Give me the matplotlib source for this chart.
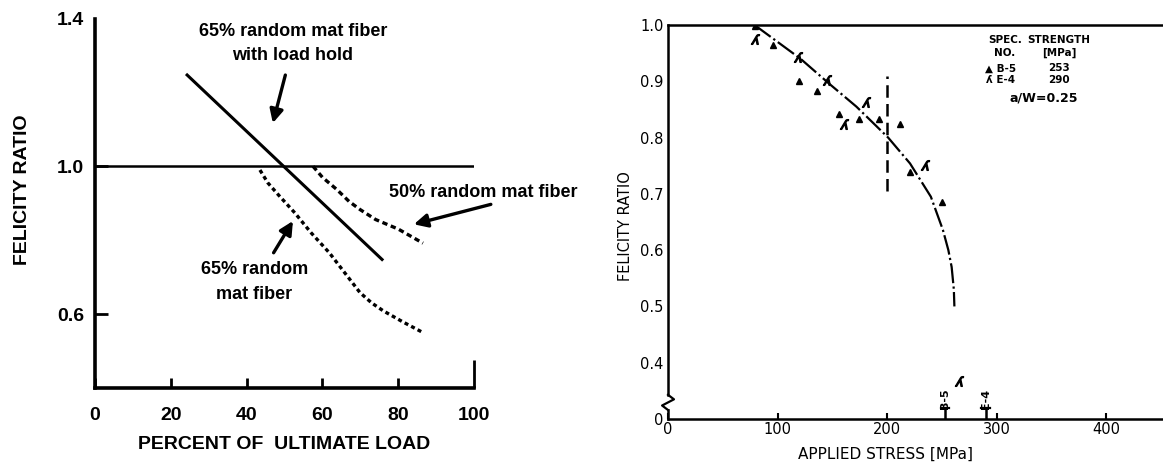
import matplotlib.pyplot as plt
from matplotlib.transforms import blended_transform_factory

# ---- left panel: felicity ratio vs percent of ultimate load ----
hold_x = [24, 76]
hold_y = [1.25, 0.745]
mat50_x = [57.5, 60, 63.8, 67, 69.9, 74, 80, 86.5]
mat50_y = [1.0, 0.97, 0.937, 0.905, 0.883, 0.856, 0.83, 0.792]
mat65_x = [43.5, 45.6, 48.6, 52.7, 57, 61.8, 66, 69.9, 73, 76, 81, 86.5]
mat65_y = [0.99, 0.955, 0.92, 0.874, 0.82, 0.766, 0.71, 0.658, 0.63, 0.609, 0.58, 0.55]
left_xticks = [0, 20, 40, 60, 80, 100]
left_yticks = [0.6, 1.0, 1.4]

# ---- right panel: felicity ratio vs applied stress ----
b5_x = [79, 96, 120, 136, 156, 174, 193, 212, 221, 250]
b5_y = [0.998, 0.964, 0.901, 0.882, 0.841, 0.833, 0.833, 0.825, 0.738, 0.685]
e4_x = [79, 119, 145, 181, 161, 235, 266]
e4_y = [0.975, 0.944, 0.902, 0.864, 0.825, 0.751, 0.368]
fit_x = [79, 100, 121, 147, 172, 201, 221, 240, 251, 256, 259, 261, 261.5]
fit_y = [1.0, 0.97, 0.94, 0.896, 0.855, 0.80, 0.754, 0.695, 0.636, 0.60, 0.57, 0.53, 0.5]
spec_names = ['B-5', 'E-4']
spec_strength = [253, 290]
right_xticks = [0, 100, 200, 300, 400]
right_yticks = [0.3, 0.4, 0.5, 0.6, 0.7, 0.8, 0.9, 1.0]
right_yticklabels = ['0', '0.4', '0.5', '0.6', '0.7', '0.8', '0.9', '1.0']

lfont = ['Liberation Sans', 'DejaVu Sans']
rfont = ['DejaVu Sans']

fig = plt.figure(figsize=(11.63, 4.63), dpi=100)

# left chart
ax1 = fig.add_axes([0.0817, 0.162, 0.326, 0.798])
ax1.set_xlim(0, 100)
ax1.set_ylim(0.4, 1.4)
for s in ['top', 'right']:
    ax1.spines[s].set_visible(False)
for s in ['left', 'bottom']:
    ax1.spines[s].set_linewidth(2.6)
ax1.axhline(1.0, color='black', lw=1.8)
ax1.plot(hold_x, hold_y, color='black', lw=2.2, solid_capstyle='butt')
ax1.plot(mat50_x, mat50_y, color='black', lw=2.4, ls=(0, (1.6, 1.1)))
ax1.plot(mat65_x, mat65_y, color='black', lw=2.4, ls=(0, (1.2, 1.0)))
ax1.set_xticks(left_xticks)
ax1.set_yticks(left_yticks)
ax1.tick_params(axis='x', direction='in', length=7, width=2, pad=14,
                labelsize=14)
ax1.tick_params(axis='y', direction='in', length=9, width=2, pad=8,
                labelsize=14)
ax1.xaxis.get_major_ticks()[-1].tick1line.set_markersize(20)
ax1.yaxis.get_major_ticks()[-1].tick1line.set_markersize(0)
for t in ax1.get_xticklabels() + ax1.get_yticklabels():
    t.set_family(lfont)
    t.set_weight('bold')
ax1.set_xlabel('PERCENT OF  ULTIMATE LOAD', family=lfont, fontsize=14,
               weight='bold', labelpad=8)
ax1.set_ylabel('FELICITY RATIO', family=lfont, fontsize=14, weight='bold')
ax1.yaxis.set_label_coords(-0.168, 0.537)

arrow = dict(arrowstyle='-|>', color='black', lw=2.4, mutation_scale=20,
             shrinkA=0, shrinkB=0)
txt = dict(family=lfont, fontsize=13, weight='bold', ha='center', va='center',
           linespacing=1.55)
ax1.text(52.2, 1.333, '65% random mat fiber\nwith load hold', **txt)
ax1.annotate('', xy=(46.9, 1.117), xytext=(50.2, 1.247), arrowprops=arrow)
ax1.text(102.5, 0.928, '50% random mat fiber', clip_on=False, **txt)
ax1.annotate('', xy=(84.1, 0.843), xytext=(104.4, 0.897), arrowprops=arrow,
             annotation_clip=False)
ax1.text(42, 0.687, '65% random\nmat fiber', **txt)
ax1.annotate('', xy=(52.2, 0.852), xytext=(47.1, 0.766), arrowprops=arrow)

# right chart
ax2 = fig.add_axes([0.5744, 0.095, 0.4256, 0.851])
ax2.set_xlim(0, 452)
ax2.set_ylim(0.3, 1.0)
ax2.spines['right'].set_visible(False)
ax2.spines['left'].set_visible(False)
ax2.spines['top'].set_linewidth(1.8)
ax2.spines['bottom'].set_linewidth(1.8)

# y axis with break symbol
ytr = blended_transform_factory(ax2.transAxes, ax2.transData)
ax2.plot([0, 0], [0.343, 1.0], color='black', lw=1.8, transform=ytr, clip_on=False)
ax2.plot([0, 0], [0.3, 0.316], color='black', lw=1.8, transform=ytr, clip_on=False)
ax2.plot([0, 0.012, -0.012, 0], [0.343, 0.335, 0.324, 0.316], color='black',
         lw=1.6, transform=ytr, clip_on=False)

ax2.plot(fit_x, fit_y, color='black', lw=1.6, ls=(0, (9, 1.5, 1, 1.5)))
ax2.plot([200, 200], [0.705, 0.91], color='black', lw=1.8, ls=(0, (5, 2.5)))
ax2.plot(b5_x, b5_y, ls='none', marker='^', ms=4.5, color='black')
ax2.plot(e4_x, e4_y, ls='none', marker='$ʎ$', ms=7, color='black')

# strength marks on the x axis
for name, s in zip(spec_names, spec_strength):
    ax2.plot([s, s], [0.3, 0.32], color='black', lw=1.8)
    ax2.plot([s - 4, s + 4], [0.32, 0.32], color='black', lw=1.6)
    ax2.text(s, 0.336, name, rotation=90, ha='center', va='center',
             family=rfont, fontsize=8, weight='bold')

ax2.set_xticks(right_xticks)
ax2.set_yticks(right_yticks)
ax2.set_yticklabels(right_yticklabels)
ax2.tick_params(axis='x', direction='in', length=4, width=1.5, pad=2,
                labelsize=10.5)
ax2.tick_params(axis='y', length=0, pad=3, labelsize=10.5)
for t in ax2.get_xticklabels() + ax2.get_yticklabels():
    t.set_family(rfont)
ax2.set_xlabel('APPLIED STRESS [MPa]', family=rfont, fontsize=11, labelpad=8)
ax2.xaxis.set_label_coords(0.44, -0.07)
ax2.set_ylabel('FELICITY RATIO', family=rfont, fontsize=10.5)
ax2.yaxis.set_label_coords(-0.07, 0.49)

lg = dict(family=rfont, fontsize=7.5, weight='bold', ha='center', va='center')
ax2.text(308, 0.973, 'SPEC.', **lg)
ax2.text(357, 0.973, 'STRENGTH', **lg)
ax2.text(307, 0.951, 'NO.', **lg)
ax2.text(357, 0.951, '[MPa]', **lg)
ax2.text(304, 0.923, '▲ B-5', **lg)
ax2.text(357, 0.923, str(spec_strength[0]), **lg)
ax2.text(304, 0.902, 'ʎ E-4', **lg)
ax2.text(357, 0.902, str(spec_strength[1]), **lg)
ax2.text(343, 0.870, 'a/W=0.25', family=rfont, fontsize=9, weight='bold',
         ha='center', va='center')

fig.savefig('out.png', dpi=100)
